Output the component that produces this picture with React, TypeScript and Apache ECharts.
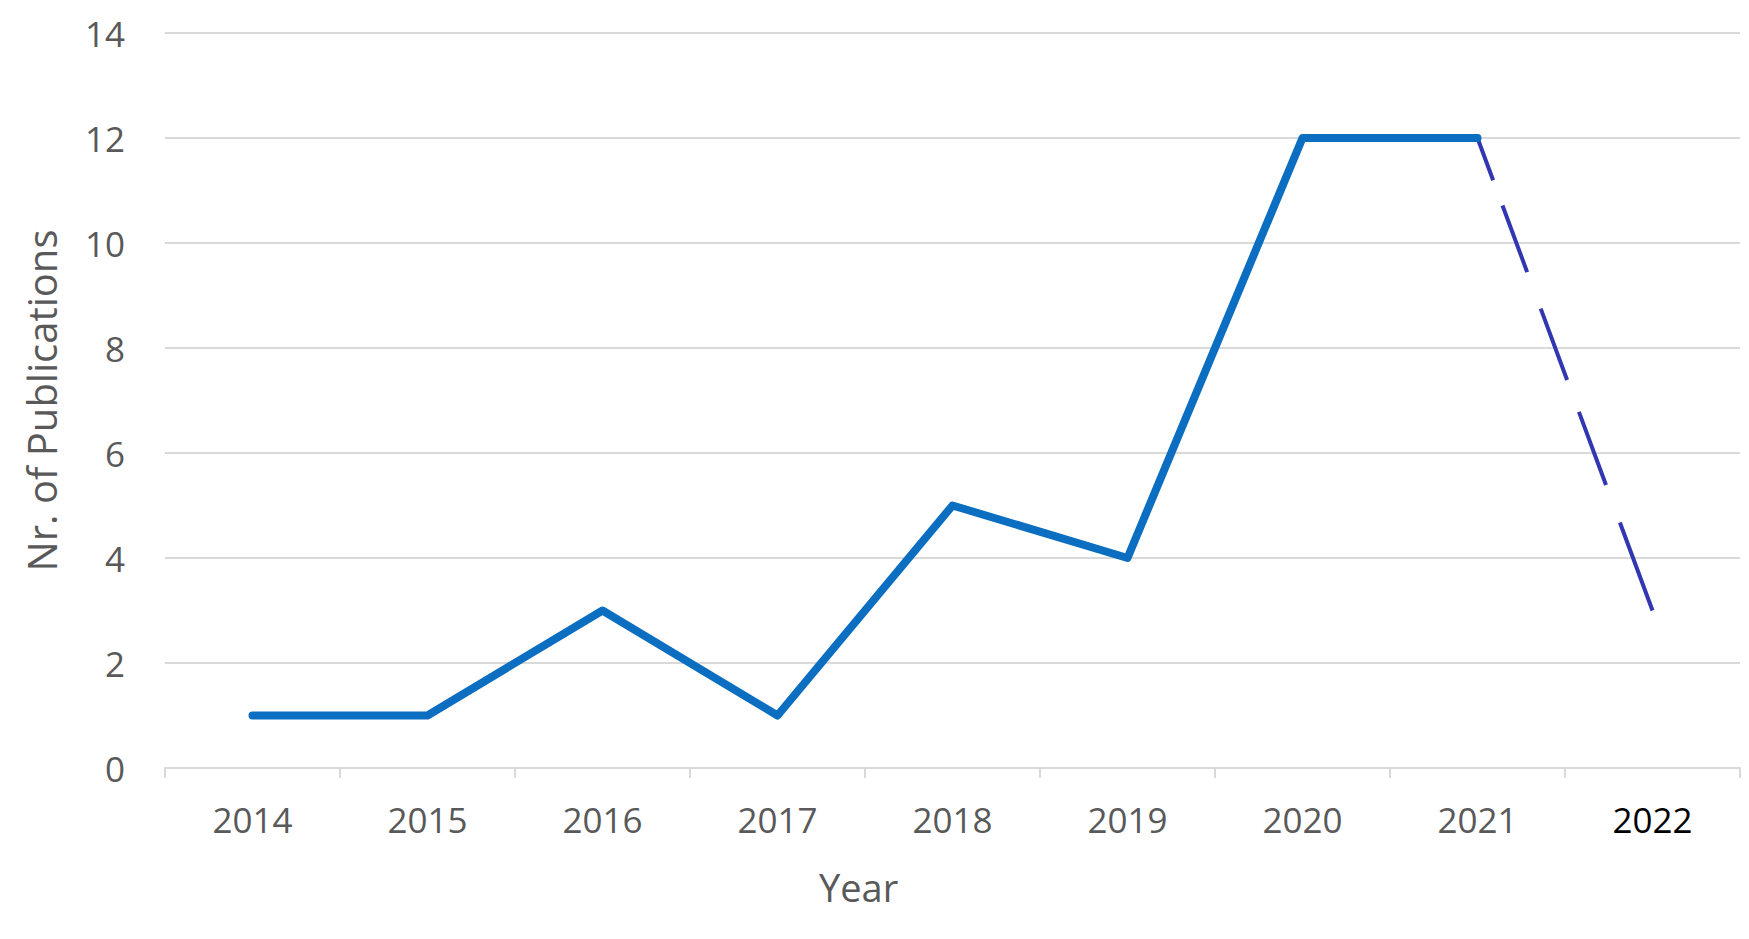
import React, { useEffect, useRef } from "react";
import * as echarts from "echarts";

const years = ["2014", "2015", "2016", "2017", "2018", "2019", "2020", "2021", "2022"];
const publications = [1, 1, 3, 1, 5, 4, 12, 12, null];
const projected = [null, null, null, null, null, null, null, 12, 3];
const yTicks = { min: 0, max: 14, interval: 2 };

export default function App() {
  const ref = useRef<HTMLDivElement>(null);
  useEffect(() => {
    document.body.style.margin = "0";
    const chart = echarts.init(ref.current!, undefined, { renderer: "svg" });
    const font = "'Open Sans', sans-serif";
    chart.setOption({
      animation: false,
      backgroundColor: "#ffffff",
      grid: { left: 165, right: 9, top: 33, bottom: 171, containLabel: false },
      xAxis: {
        type: "category",
        boundaryGap: true,
        data: years.map((y, i) =>
          i === years.length - 1 ? { value: y, textStyle: { color: "#000000" } } : y
        ),
        axisLine: { show: true, lineStyle: { color: "#d9d9d9", width: 2 } },
        axisTick: { show: true, alignWithLabel: false, length: 10, lineStyle: { color: "#d9d9d9", width: 2 } },
        axisLabel: { color: "#595959", fontSize: 35, fontFamily: font, margin: 34 },
        splitLine: { show: false },
      },
      yAxis: {
        type: "value",
        min: yTicks.min,
        max: yTicks.max,
        interval: yTicks.interval,
        name: "Nr. of Publications",
        nameLocation: "middle",
        nameGap: 104,
        nameRotate: 90,
        nameTextStyle: { color: "#595959", fontSize: 40, fontFamily: font },
        axisLine: { show: false },
        axisTick: { show: false },
        axisLabel: { color: "#595959", fontSize: 35, fontFamily: font, margin: 40 },
        splitLine: { show: true, lineStyle: { color: "#d9d9d9", width: 2 } },
      },
      graphic: [
        {
          type: "text",
          left: 861 - 42,
          top: 868,
          style: { text: "Year", fill: "#595959", fontSize: 38, fontFamily: font },
        },
      ],
      series: [
        {
          type: "line",
          data: publications,
          symbol: "none",
          showSymbol: false,
          connectNulls: false,
          lineStyle: { color: "#0B6EC1", width: 8, cap: "round", join: "round" },
          z: 3,
        },
        {
          type: "line",
          data: projected,
          symbol: "none",
          showSymbol: false,
          lineStyle: {
            color: "#3236B0",
            width: 4,
            type: [45, 27, 71, 39, 76, 34, 78, 40, 100, 20],
            dashOffset: 0,
          },
          z: 2,
        },
      ],
    });
    return () => chart.dispose();
  }, []);
  return (
    <div
      ref={ref}
      style={{ position: "absolute", left: 0, top: 0, width: 1749, height: 939 }}
    />
  );
}
